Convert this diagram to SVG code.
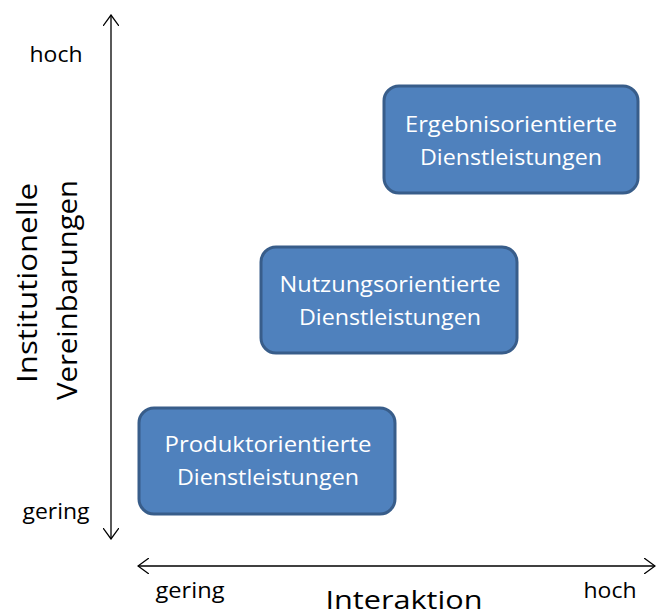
<svg xmlns="http://www.w3.org/2000/svg" width="658" height="615" viewBox="0 0 658 615">
  <style>
    .lbl { font-family: "Open Sans", "Liberation Sans", sans-serif; fill: #000; text-anchor: middle; }
    .box rect { fill: #4F81BD; stroke: #385D8A; stroke-width: 3; }
    .box text { font-family: "Open Sans", "Liberation Sans", sans-serif; font-size: 21.5px; fill: #fff; text-anchor: middle; }
    .axis { stroke: #000; stroke-width: 1.3; fill: none; }
  </style>
  <defs>
    <marker id="open" viewBox="0 0 12 16" refX="11" refY="8" markerWidth="12" markerHeight="16" markerUnits="userSpaceOnUse" orient="auto-start-reverse">
      <path d="M0,0 L11,8 L0,16" fill="none" stroke="#000" stroke-width="1.3"/>
    </marker>
  </defs>

  <!-- axes -->
  <g id="connectors">
    <line class="axis" x1="111" y1="539" x2="111" y2="15" marker-start="url(#open)" marker-end="url(#open)"/>
    <line class="axis" x1="138" y1="566" x2="655" y2="566" marker-start="url(#open)" marker-end="url(#open)"/>
  </g>

  <!-- axis labels -->
  <g id="axis-labels">
    <text class="lbl" x="56" y="62" font-size="22" textLength="53" lengthAdjust="spacingAndGlyphs">hoch</text>
    <text class="lbl" x="56" y="519" font-size="22" textLength="67" lengthAdjust="spacingAndGlyphs">gering</text>
    <text class="lbl" x="190" y="598" font-size="22" textLength="69" lengthAdjust="spacingAndGlyphs">gering</text>
    <text class="lbl" x="610" y="598" font-size="22" textLength="53" lengthAdjust="spacingAndGlyphs">hoch</text>
    <text class="lbl" x="404" y="609" font-size="25" textLength="157" lengthAdjust="spacingAndGlyphs">Interaktion</text>
    <text class="lbl" font-size="28" textLength="200" lengthAdjust="spacingAndGlyphs" transform="translate(37,283) rotate(-90)">Institutionelle</text>
    <text class="lbl" font-size="28" textLength="220" lengthAdjust="spacingAndGlyphs" transform="translate(77,290) rotate(-90)">Vereinbarungen</text>
  </g>

  <g id="ergebnis" class="box">
    <rect x="384" y="86" width="254" height="107" rx="15"/>
    <text x="511" y="132" textLength="212" lengthAdjust="spacingAndGlyphs">Ergebnisorientierte</text>
    <text x="511" y="165" textLength="182" lengthAdjust="spacingAndGlyphs">Dienstleistungen</text>
  </g>

  <g id="nutzung" class="box">
    <rect x="261" y="247" width="256" height="106" rx="15"/>
    <text x="390" y="292" textLength="221" lengthAdjust="spacingAndGlyphs">Nutzungsorientierte</text>
    <text x="390" y="325" textLength="182" lengthAdjust="spacingAndGlyphs">Dienstleistungen</text>
  </g>

  <g id="produkt" class="box">
    <rect x="139" y="408" width="256" height="106" rx="15"/>
    <text x="268" y="452" textLength="207" lengthAdjust="spacingAndGlyphs">Produktorientierte</text>
    <text x="268" y="485" textLength="182" lengthAdjust="spacingAndGlyphs">Dienstleistungen</text>
  </g>
</svg>
